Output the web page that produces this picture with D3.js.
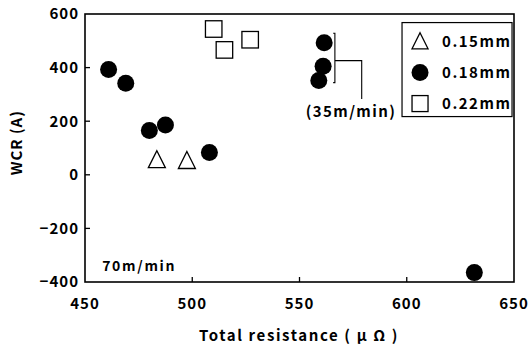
<!DOCTYPE html>
<html>
<head>
<meta charset="utf-8">
<script src="https://cdn.jsdelivr.net/npm/d3@7"></script>
<style>
  body { margin: 0; background: #fff; }
  text { font-family: "Noto Sans CJK JP", "DejaVu Sans", sans-serif; font-weight: 700; fill: #000; }
</style>
</head>
<body>
<div id="graphic"></div>
<script>
// data
var tri15 = [{ x: 483.5, y: 55 }, { x: 497.5, y: 52 }];
var circ18 = [
  { x: 461, y: 393 }, { x: 469, y: 342 }, { x: 480, y: 165 }, { x: 487.5, y: 186 },
  { x: 508, y: 83 }, { x: 561.5, y: 493 }, { x: 561, y: 405 }, { x: 559, y: 352 },
  { x: 631.5, y: -365 }
];
var sq22 = [{ x: 510, y: 544 }, { x: 515, y: 466 }, { x: 527, y: 504 }];
var xTicks = [450, 500, 550, 600, 650];
var yTicks = [-400, -200, 0, 200, 400, 600];
var legendLabels = ["0.15mm", "0.18mm", "0.22mm"];

var W = 529, H = 347;
var margin = { top: 14, right: 15, bottom: 65, left: 85 };
var width = W - margin.left - margin.right;
var height = H - margin.top - margin.bottom;

var svg = d3.select("#graphic").append("svg")
  .attr("width", W)
  .attr("height", H)
  .append("g")
  .attr("transform", "translate(" + margin.left + "," + margin.top + ")");

var x = d3.scaleLinear().domain([450, 650]).range([0, width]);
var y = d3.scaleLinear().domain([-400, 600]).range([height, 0]);

// frame
svg.append("rect")
  .attr("x", 0).attr("y", 0)
  .attr("width", width).attr("height", height)
  .attr("fill", "none").attr("stroke", "#000").attr("stroke-width", 1.6);

// inner ticks
svg.append("g").selectAll("line")
  .data(yTicks.filter(function (d) { return d > -400 && d < 600; }))
  .enter().append("line")
  .attr("x1", 0).attr("x2", 5)
  .attr("y1", function (d) { return y(d); }).attr("y2", function (d) { return y(d); })
  .attr("stroke", "#000").attr("stroke-width", 1.3);

svg.append("g").selectAll("line")
  .data(xTicks.filter(function (d) { return d > 450 && d < 650; }))
  .enter().append("line")
  .attr("x1", function (d) { return x(d); }).attr("x2", function (d) { return x(d); })
  .attr("y1", height).attr("y2", height - 5)
  .attr("stroke", "#000").attr("stroke-width", 1.3);

// tick labels
svg.append("g").selectAll("text")
  .data(yTicks)
  .enter().append("text")
  .attr("x", -6)
  .attr("y", function (d) { return y(d); })
  .attr("dy", "0.36em")
  .attr("text-anchor", "end")
  .style("font-size", "15px")
  .style("letter-spacing", "1px")
  .text(function (d) { return d < 0 ? "\u2212" + (-d) : d; });

svg.append("g").selectAll("text")
  .data(xTicks)
  .enter().append("text")
  .attr("x", function (d) { return x(d); })
  .attr("y", height + 27)
  .attr("text-anchor", "middle")
  .style("font-size", "15px")
  .style("letter-spacing", "1px")
  .text(function (d) { return d; });

// axis titles
svg.append("text")
  .attr("x", 214)
  .attr("y", height + 59)
  .attr("text-anchor", "middle")
  .style("font-size", "15px")
  .style("letter-spacing", "1.6px")
  .text("Total resistance ( \u03bc \u03a9 )");

svg.append("text")
  .attr("transform", "translate(" + (-margin.left + 22) + "," + (y(120)) + ") rotate(-90)")
  .attr("text-anchor", "middle")
  .style("font-size", "15px")
  .style("letter-spacing", "1px")
  .text("WCR (A)");

// marks
var r = 8.5, s = 16.5;
function triPath(cx, cy, size) {
  var h = size;
  return "M" + cx + "," + (cy - h * 0.55) +
    "L" + (cx + size / 2) + "," + (cy + h * 0.45) +
    "L" + (cx - size / 2) + "," + (cy + h * 0.45) + "Z";
}

svg.selectAll(".circ")
  .data(circ18)
  .enter().append("circle")
  .attr("class", "circ")
  .attr("cx", function (d) { return x(d.x); })
  .attr("cy", function (d) { return y(d.y); })
  .attr("r", r)
  .attr("fill", "#000");

svg.selectAll(".sq")
  .data(sq22)
  .enter().append("rect")
  .attr("class", "sq")
  .attr("x", function (d) { return x(d.x) - s / 2; })
  .attr("y", function (d) { return y(d.y) - s / 2; })
  .attr("width", s).attr("height", s)
  .attr("fill", "#fff").attr("stroke", "#000").attr("stroke-width", 1.3);

svg.selectAll(".tri")
  .data(tri15)
  .enter().append("path")
  .attr("class", "tri")
  .attr("d", function (d) { return triPath(x(d.x), y(d.y), 17); })
  .attr("fill", "#fff").attr("stroke", "#000").attr("stroke-width", 1.3);

// bracket for the 35m/min group
var bx0 = x(561.5) + 9, bx1 = x(566.5), bx2 = x(579);
var byTop = y(528), byBot = y(344), byMid = y(426), byEnd = y(283);
svg.append("path")
  .attr("d", "M" + bx0 + "," + byTop + "H" + bx1 + "V" + byBot + "H" + bx0 +
    "M" + bx1 + "," + byMid + "H" + bx2 + "V" + byEnd)
  .attr("fill", "none").attr("stroke", "#000").attr("stroke-width", 1.1);

svg.append("text")
  .attr("x", x(574))
  .attr("y", y(215))
  .attr("text-anchor", "middle")
  .style("font-size", "15px")
  .style("letter-spacing", "1.4px")
  .text("(35m/min)");

svg.append("text")
  .attr("x", x(458))
  .attr("y", y(-358))
  .style("font-size", "14px")
  .style("letter-spacing", "1.7px")
  .text("70m/min");

// legend
var lg = svg.append("g").attr("transform", "translate(" + (x(597.8)) + "," + (y(568)) + ")");
lg.append("rect")
  .attr("width", 110).attr("height", 94)
  .attr("fill", "#fff").attr("stroke", "#000").attr("stroke-width", 1.2);
legendLabels.forEach(function (t, i) {
  var cy = 19 + i * 31, cx = 18;
  if (i === 0) lg.append("path").attr("d", triPath(cx, cy, 16))
    .attr("fill", "#fff").attr("stroke", "#000").attr("stroke-width", 1.3);
  if (i === 1) lg.append("circle").attr("cx", cx).attr("cy", cy).attr("r", r).attr("fill", "#000");
  if (i === 2) lg.append("rect").attr("x", cx - 8).attr("y", cy - 8).attr("width", 16).attr("height", 16)
    .attr("fill", "#fff").attr("stroke", "#000").attr("stroke-width", 1.3);
  lg.append("text").attr("x", 40).attr("y", cy).attr("dy", "0.36em")
    .style("font-size", "15px").style("letter-spacing", "1.5px").text(t);
});
</script>
</body>
</html>
